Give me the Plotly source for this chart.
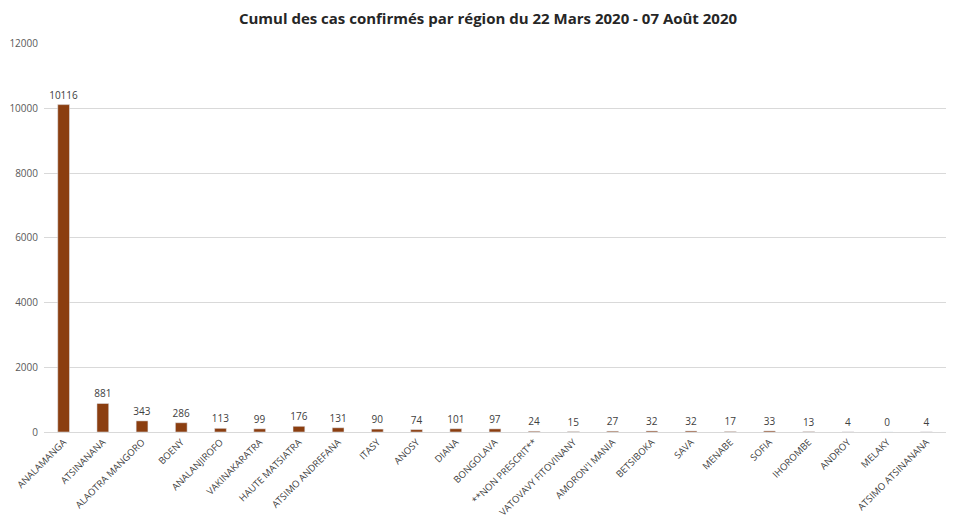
import plotly.graph_objects as go

regions = [
    "ANALAMANGA", "ATSINANANA", "ALAOTRA MANGORO", "BOENY", "ANALANJIROFO",
    "VAKINAKARATRA", "HAUTE MATSIATRA", "ATSIMO ANDREFANA", "ITASY", "ANOSY",
    "DIANA", "BONGOLAVA", "**NON PRESCRIT**", "VATOVAVY FITOVINANY",
    "AMORON'I MANIA", "BETSIBOKA", "SAVA", "MENABE", "SOFIA", "IHOROMBE",
    "ANDROY", "MELAKY", "ATSIMO ATSINANANA",
]
cases = [10116, 881, 343, 286, 113, 99, 176, 131, 90, 74, 101, 97, 24, 15,
         27, 32, 32, 17, 33, 13, 4, 0, 4]
y_ticks = [0, 2000, 4000, 6000, 8000, 10000, 12000]

fig = go.Figure(go.Bar(
    x=regions, y=cases,
    marker=dict(color="#8B3E10"),
    text=[str(v) for v in cases], textposition="outside",
    textfont=dict(size=10, color="#404040"),
    constraintext="none",
    cliponaxis=False,
))

fig.update_layout(
    title=dict(text="<b>Cumul des cas confirmés par région du 22 Mars 2020 - 07 Août 2020</b>",
               x=0.5, xanchor="center", y=0.98, yanchor="middle",
               font=dict(size=15, color="#262626")),
    font=dict(family="Open Sans, Liberation Sans, sans-serif"),
    paper_bgcolor="white", plot_bgcolor="white",
    bargap=0.7, showlegend=False,
    width=960, height=527,
    margin=dict(l=36, r=22, t=35, b=103),
    uniformtext=dict(minsize=10, mode="show"),
    xaxis=dict(tickangle=-45, tickfont=dict(size=9.5, color="#404040"),
               showline=True, linecolor="#d9d9d9", ticks="", automargin=False),
    yaxis=dict(range=[0, 12020], tickvals=y_ticks, ticktext=[str(v) for v in y_ticks],
               tickfont=dict(size=10, color="#595959"),
               gridcolor="#d9d9d9", zeroline=False, ticks="outside", ticklen=3,
               tickcolor="white", automargin=False),
)

fig.write_html("out.html")
